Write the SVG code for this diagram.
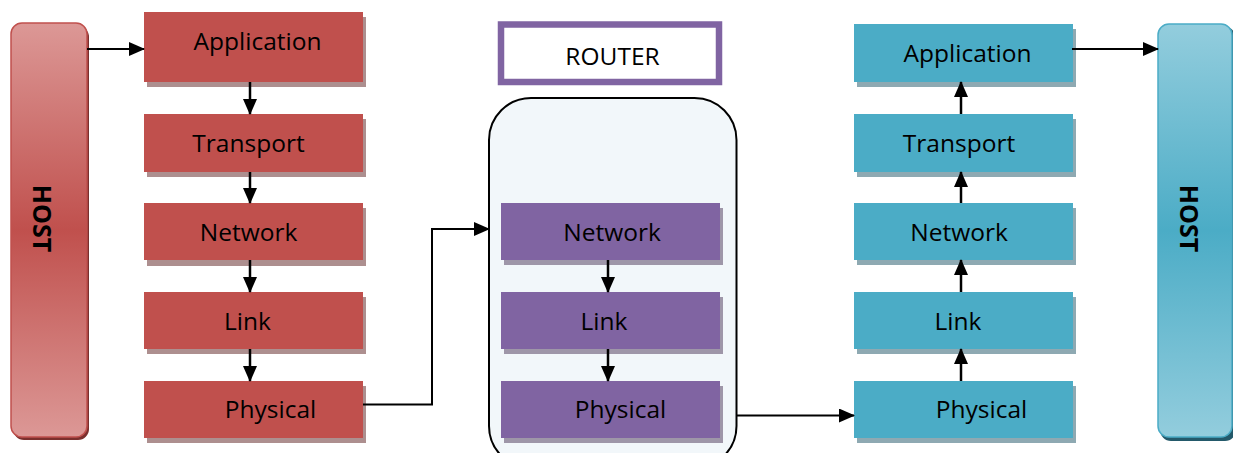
<svg xmlns="http://www.w3.org/2000/svg" width="1233" height="453" viewBox="0 0 1233 453">
<style>
  .lbl{font-family:"Open Sans","Liberation Sans",sans-serif;font-size:24.5px;fill:#000;text-anchor:middle}
  .host{font-family:"Open Sans","Liberation Sans",sans-serif;font-size:25px;font-weight:bold;fill:#000;text-anchor:middle}
  .red{fill:#c0504d}
  .redsh{fill:#ad8f8f}
  .pur{fill:#8064a2}
  .pursh{fill:#9e96a8}
  .cyn{fill:#4bacc6}
  .cynsh{fill:#8ea9b2}
  .con{fill:none;stroke:#000;stroke-width:2}
  .vcon{fill:none;stroke:#000;stroke-width:2.5}
</style>
<defs>
  <marker id="ah" markerWidth="16" markerHeight="14" refX="15" refY="7" orient="auto" markerUnits="userSpaceOnUse" viewBox="0 0 16 14">
    <path d="M0,0 L16,7 L0,14 z" fill="#000"/>
  </marker>
  <marker id="ahs" markerWidth="16" markerHeight="14" refX="15" refY="7" orient="auto" markerUnits="userSpaceOnUse" viewBox="0 0 16 14">
    <path d="M0,0 L16,7 L0,14 z" fill="#000"/>
  </marker>
  <linearGradient id="gRed" x1="0" y1="0" x2="0" y2="1">
    <stop offset="0" stop-color="#dc9896"/>
    <stop offset="0.5" stop-color="#c0504d"/>
    <stop offset="1" stop-color="#dc9896"/>
  </linearGradient>
  <linearGradient id="gCyn" x1="0" y1="0" x2="0" y2="1">
    <stop offset="0" stop-color="#93cddd"/>
    <stop offset="0.5" stop-color="#4bacc6"/>
    <stop offset="1" stop-color="#93cddd"/>
  </linearGradient>
</defs>

<!-- Left host -->
<g id="host-left">
  <rect x="13" y="26" width="76" height="414" rx="11" fill="#7b2f2d"/>
  <rect x="11" y="23" width="76" height="414" rx="11" fill="url(#gRed)" stroke="#c0504d" stroke-width="1.5"/>
  <text class="host" transform="translate(33,218.5) rotate(90)">HOST</text>
</g>

<!-- Left stack -->
<g id="l-app"><rect x="147" y="17" width="219" height="70" class="redsh"/><rect x="144" y="12" width="219" height="70" class="red"/><text class="lbl" x="257.5" y="50">Application</text></g>
<g id="l-trans"><rect x="147" y="119" width="219" height="58" class="redsh"/><rect x="144" y="114" width="219" height="58" class="red"/><text class="lbl" x="248.5" y="152">Transport</text></g>
<g id="l-net"><rect x="147" y="208" width="219" height="58" class="redsh"/><rect x="144" y="203" width="219" height="57" class="red"/><text class="lbl" x="248.5" y="241">Network</text></g>
<g id="l-link"><rect x="147" y="297" width="219" height="57" class="redsh"/><rect x="144" y="292" width="219" height="57" class="red"/><text class="lbl" x="247.5" y="330">Link</text></g>
<g id="l-phys"><rect x="147" y="386" width="219" height="57" class="redsh"/><rect x="144" y="381" width="219" height="57" class="red"/><text class="lbl" x="270.5" y="418">Physical</text></g>

<!-- Router label -->
<g id="router-label">
  <rect x="501" y="24.5" width="218" height="57.5" fill="#fff" stroke="#8064a2" stroke-width="6.5"/>
  <text class="lbl" x="612.5" y="65">ROUTER</text>
</g>

<!-- Router container -->
<g id="router">
  <rect x="489" y="98" width="247.5" height="370" rx="42" fill="#f2f7fa" stroke="#000" stroke-width="2"/>
</g>
<g id="r-net"><rect x="504" y="208" width="219" height="57" class="pursh"/><rect x="501" y="203" width="219" height="57" class="pur"/><text class="lbl" x="612" y="241">Network</text></g>
<g id="r-link"><rect x="504" y="297" width="219" height="57" class="pursh"/><rect x="501" y="292" width="219" height="57" class="pur"/><text class="lbl" x="604" y="330">Link</text></g>
<g id="r-phys"><rect x="504" y="386" width="219" height="57" class="pursh"/><rect x="501" y="381" width="219" height="57" class="pur"/><text class="lbl" x="620.5" y="418">Physical</text></g>

<!-- Right stack -->
<g id="r2-app"><rect x="857" y="29" width="219" height="58" class="cynsh"/><rect x="854" y="24" width="219" height="58" class="cyn"/><text class="lbl" x="967.5" y="62">Application</text></g>
<g id="r2-trans"><rect x="857" y="119" width="219" height="58" class="cynsh"/><rect x="854" y="114" width="219" height="58" class="cyn"/><text class="lbl" x="959" y="152">Transport</text></g>
<g id="r2-net"><rect x="857" y="208" width="219" height="57" class="cynsh"/><rect x="854" y="203" width="219" height="57" class="cyn"/><text class="lbl" x="959" y="241">Network</text></g>
<g id="r2-link"><rect x="857" y="297" width="219" height="57" class="cynsh"/><rect x="854" y="292" width="219" height="57" class="cyn"/><text class="lbl" x="958" y="330">Link</text></g>
<g id="r2-phys"><rect x="857" y="386" width="219" height="57" class="cynsh"/><rect x="854" y="381" width="219" height="57" class="cyn"/><text class="lbl" x="981.5" y="418">Physical</text></g>

<!-- Right host -->
<g id="host-right">
  <rect x="1160" y="27" width="76" height="414" rx="11" fill="#23596a"/>
  <rect x="1158" y="24" width="74" height="413" rx="11" fill="url(#gCyn)" stroke="#4bacc6" stroke-width="1.5"/>
  <text class="host" transform="translate(1180,218.5) rotate(90)">HOST</text>
</g>

<!-- Connectors -->
<g id="connectors">
  <path class="con" d="M87,49 H144" marker-end="url(#ahs)"/>
  <path class="vcon" d="M250,82 V114" marker-end="url(#ah)"/>
  <path class="vcon" d="M250,172 V203" marker-end="url(#ah)"/>
  <path class="vcon" d="M250,260 V292" marker-end="url(#ah)"/>
  <path class="vcon" d="M250,349 V381" marker-end="url(#ah)"/>
  <path class="con" d="M363,404.5 H432 V229 H489" marker-end="url(#ahs)"/>
  <path class="vcon" d="M608,260 V292" marker-end="url(#ah)"/>
  <path class="vcon" d="M608,349 V381" marker-end="url(#ah)"/>
  <path class="con" d="M736,415.5 H854" marker-end="url(#ahs)"/>
  <path class="vcon" d="M961,381 V349" marker-end="url(#ah)"/>
  <path class="vcon" d="M961,292 V260" marker-end="url(#ah)"/>
  <path class="vcon" d="M961,203 V172" marker-end="url(#ah)"/>
  <path class="vcon" d="M961,114 V82" marker-end="url(#ah)"/>
  <path class="con" d="M1072,49 H1158" marker-end="url(#ahs)"/>
</g>
</svg>
